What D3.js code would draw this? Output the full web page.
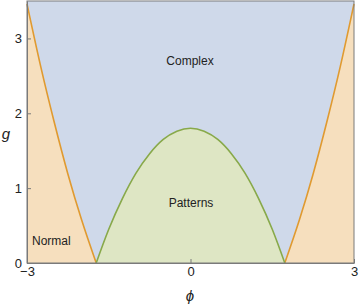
<!DOCTYPE html>
<html>
<head>
<meta charset="utf-8">
<script src="https://cdn.jsdelivr.net/npm/d3@7"></script>
<style>
  body { margin: 0; background: #fff; }
  svg text { font-family: "Liberation Sans", Arial, sans-serif; fill: #222; }
</style>
</head>
<body>
<svg id="chart" width="360" height="306"></svg>
<script>
// boundary of the patterns region (phi, g)
var patternPhi = [-1.73, -1.5, -1.25, -1, -0.75, -0.5, -0.25, 0, 0.25, 0.5, 0.75, 1, 1.25, 1.5, 1.73];
var patternG   = [0, 0.45, 0.86, 1.2, 1.46, 1.65, 1.76, 1.8, 1.76, 1.65, 1.46, 1.2, 0.86, 0.45, 0];

// boundary of the normal region, right branch (left branch is the mirror)
var normalPhi = [1.73, 2, 2.25, 2.5, 2.75, 3];
var normalG   = [0, 0.58, 1.19, 1.88, 2.63, 3.46];

var xTicks = [-3, 0, 3];
var yTicks = [0, 1, 2, 3];
var xDomain = [-3, 3];
var yDomain = [0, 3.5];

var svg = d3.select("#chart");
var padLeft = 27, padRight = 354, padTop = 1, padBottom = 263;

var x = d3.scaleLinear().domain(xDomain).range([padLeft, padRight]);
var y = d3.scaleLinear().domain(yDomain).range([padBottom, padTop]);

var pattern = patternPhi.map((p, i) => [p, patternG[i]]);
var normalR = normalPhi.map((p, i) => [p, normalG[i]]);
var normalL = normalR.map(d => [-d[0], d[1]]).reverse();

var curve = d3.line().x(d => x(d[0])).y(d => y(d[1])).curve(d3.curveMonotoneX);
var line = d3.line().x(d => x(d[0])).y(d => y(d[1]));

// complex background
svg.append("rect")
  .attr("x", padLeft).attr("y", padTop)
  .attr("width", padRight - padLeft).attr("height", padBottom - padTop)
  .attr("fill", "#cfd9ea");

// normal regions: curve + straight closing edges
function region(pts, cornerX) {
  var last = pts[pts.length - 1], first = pts[0];
  var d = curve(pts);
  d += "L" + x(cornerX) + "," + y(cornerX < 0 ? first[1] : last[1]);
  return d;
}
var leftD = curve(normalL) + "L" + x(xDomain[0]) + "," + y(yDomain[0]) +
  "L" + x(xDomain[0]) + "," + y(yDomain[1]) + "L" + x(normalL[0][0]) + "," + y(yDomain[1]) + "Z";
var rightD = curve(normalR) + "L" + x(xDomain[1]) + "," + y(yDomain[1]) +
  "L" + x(xDomain[1]) + "," + y(yDomain[0]) + "Z";

svg.append("path").attr("d", leftD).attr("fill", "#f6dfbe");
svg.append("path").attr("d", rightD).attr("fill", "#f6dfbe");

// patterns region
svg.append("path").attr("d", curve(pattern) + "Z").attr("fill", "#dee6c4");

// boundaries
svg.append("path").attr("d", curve(normalL)).attr("fill", "none")
  .attr("stroke", "#e09a30").attr("stroke-width", 1.6);
svg.append("path").attr("d", curve(normalR)).attr("fill", "none")
  .attr("stroke", "#e09a30").attr("stroke-width", 1.6);
svg.append("path").attr("d", curve(pattern)).attr("fill", "none")
  .attr("stroke", "#88a94a").attr("stroke-width", 1.6);

// frame
svg.append("rect")
  .attr("x", padLeft).attr("y", padTop)
  .attr("width", padRight - padLeft).attr("height", padBottom - padTop)
  .attr("fill", "none").attr("stroke", "#7a7a7a").attr("stroke-width", 1);

// axes
var xAxis = d3.axisBottom(x).tickValues(xTicks).tickSizeInner(-4).tickSizeOuter(0)
  .tickFormat(d => d < 0 ? "\u2212" + Math.abs(d) : d);
var yAxis = d3.axisLeft(y).tickValues(yTicks).tickSizeInner(-4).tickSizeOuter(0)
  .tickFormat(d3.format("d"));

var gx = svg.append("g").attr("transform", "translate(0," + padBottom + ")").call(xAxis);
var gy = svg.append("g").attr("transform", "translate(" + padLeft + ",0)").call(yAxis);
[gx, gy].forEach(g => {
  g.select(".domain").attr("stroke", "#7a7a7a");
  g.selectAll(".tick line").attr("stroke", "#7a7a7a");
  g.selectAll(".tick text").attr("font-size", 13).attr("fill", "#222")
    .attr("font-family", "'Liberation Sans', Arial, sans-serif");
});
gx.selectAll(".tick text").attr("y", 4);
gy.selectAll(".tick text").attr("x", -5);

// axis titles
svg.append("text").attr("x", 190).attr("y", 301).attr("text-anchor", "middle")
  .attr("font-size", 15).attr("font-style", "italic").text("\u03d5");
svg.append("text").attr("x", 6).attr("y", 139).attr("text-anchor", "middle")
  .attr("font-size", 15).attr("font-style", "italic").text("g");

// region labels
svg.append("text").attr("x", 190).attr("y", 65).attr("text-anchor", "middle")
  .attr("font-size", 12).text("Complex");
svg.append("text").attr("x", 191).attr("y", 207).attr("text-anchor", "middle")
  .attr("font-size", 12).text("Patterns");
svg.append("text").attr("x", 32).attr("y", 245)
  .attr("font-size", 12).text("Normal");
</script>
</body>
</html>
